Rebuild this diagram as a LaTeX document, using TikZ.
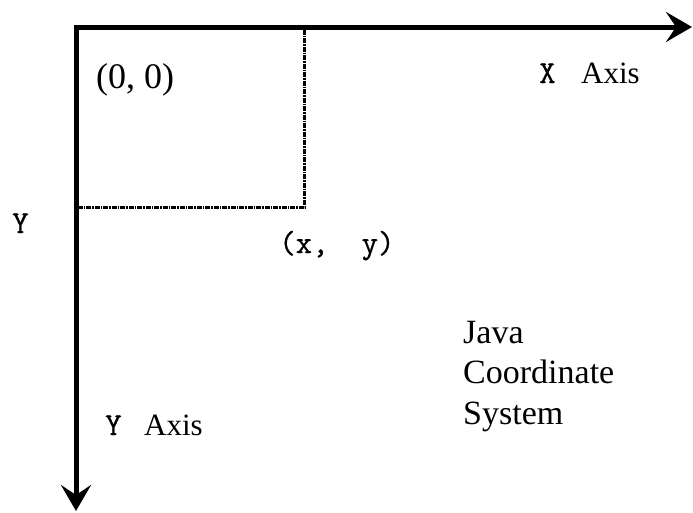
\documentclass[tikz,border=0pt]{standalone}
\usepackage{fontspec}
\setmainfont{Liberation Serif}
\setmonofont[FakeBold=0.8]{Latin Modern Mono}
\usetikzlibrary{arrows.meta}
\tikzset{
  axisline/.style={line width=5pt, line join=miter,
    {Stealth[length=26pt,width=30pt,inset=10pt]}-{Stealth[length=26pt,width=30pt,inset=10pt]}},
  guideline/.style={line width=3pt, dash pattern=on 5pt off 1pt on 1.5pt off 1pt},
  lbl/.style={inner sep=0pt, anchor=base west, text=black},
  serifbig/.style={lbl, font=\fontsize{36}{40}\selectfont},
  serifmid/.style={lbl, font=\fontsize{34}{40}\selectfont},
  serifax/.style={lbl, font=\fontsize{31}{36}\selectfont},
  monolbl/.style={lbl, font=\fontsize{32}{36}\selectfont\ttfamily}
}
\begin{document}
\begin{tikzpicture}[x=1pt,y=-1pt]
\useasboundingbox (0,0) rectangle (693,512);
\coordinate (O) at (76,27);
\coordinate (XE) at (692,27);
\coordinate (YE) at (76,511);
\coordinate (P) at (304.5,207);
\coordinate (PT) at (O -| P);
\coordinate (PL) at (O |- P);
\draw[axisline] (XE) -- (O) -- (YE);
\draw[guideline] ([yshift=-2.5pt]PT) -- (P) -- ([xshift=2.5pt]PL);
\node[serifbig] (origin) at (96,88) {(0, 0)};
\node[monolbl] (xa1) at (539,83) {X};
\node[serifax] (xa2) at (581,83) {Axis};
\node[monolbl] (yl) at (12,233) {Y};
\node[monolbl] (xy) at (279,253) {(x,\ \ y)};
\node[serifmid] (sys1) at (463,343) {Java};
\node[serifmid] (sys2) at (463,383) {Coordinate};
\node[serifmid] (sys3) at (463,424) {System};
\node[monolbl] (ya1) at (105,435) {Y};
\node[serifax] (ya2) at (144,435) {Axis};
\end{tikzpicture}
\end{document}
